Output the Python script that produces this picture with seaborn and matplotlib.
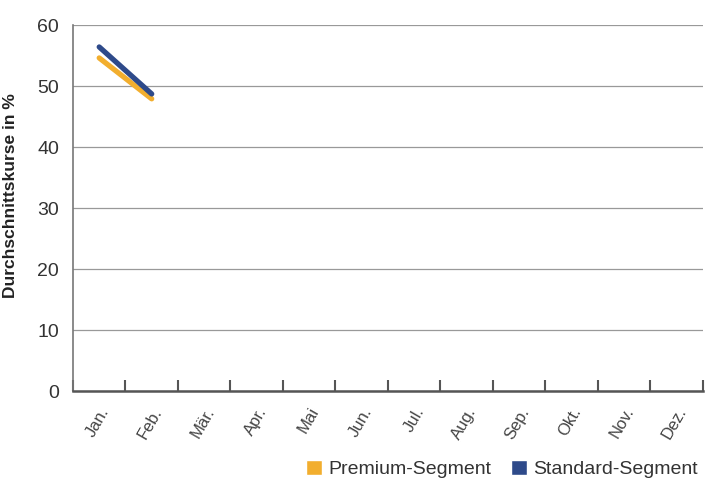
import matplotlib
matplotlib.use("Agg")
import matplotlib.pyplot as plt
from matplotlib.patches import Patch
import seaborn as sns
import pandas as pd
import numpy as np

months = ["Jan.", "Feb.", "Mär.", "Apr.", "Mai", "Jun.", "Jul.", "Aug.", "Sep.", "Okt.", "Nov.", "Dez."]
premium = [54.6, 47.9]
standard = [56.4, 48.7]
series_names = ["Premium-Segment", "Standard-Segment"]
colors = ["#F2AE2E", "#2E4A8A"]

sns.set_style("white")
plt.rcParams['font.family'] = ['Liberation Sans', 'DejaVu Sans']

df = pd.DataFrame({
    "pos": list(range(len(premium))) + list(range(len(standard))),
    "value": premium + standard,
    "Segment": [series_names[0]] * len(premium) + [series_names[1]] * len(standard),
})

fig = plt.figure(figsize=(7.12, 4.79), dpi=100)
ax = fig.add_axes([0.1025, 0.1837, 0.8845, 0.7641])

sns.lineplot(data=df, x="pos", y="value", hue="Segment", palette=colors,
             linewidth=3.8, ax=ax, legend=False, solid_capstyle="round")

ax.set_xlim(-0.5, 11.5)
ax.set_ylim(0, 60)
ax.set_yticks(range(0, 61, 10))
ax.yaxis.grid(True, color="#999999", linewidth=0.9)
ax.set_axisbelow(True)

# tick marks at category boundaries, labels at centres
ax.set_xticks(np.arange(-0.5, 11.6, 1.0))
ax.set_xticklabels([])
ax.tick_params(axis="x", which="major", bottom=True, direction="in", length=8, width=1.5, color="#555555")
ax.set_xticks(np.arange(len(months)), minor=True)
ax.set_xticklabels(months, minor=True, rotation=60, ha="right", rotation_mode="anchor",
                   fontsize=12, color="#444444")
ax.tick_params(axis="x", which="minor", bottom=True, length=0, pad=10)
ax.tick_params(axis="y", length=0, labelsize=14, labelcolor="#333333", pad=10)

for s in ["top", "right"]:
    ax.spines[s].set_visible(False)
ax.spines["left"].set_color("#777777")
ax.spines["left"].set_linewidth(1.2)
ax.spines["bottom"].set_color("#555555")
ax.spines["bottom"].set_linewidth(1.8)

ax.set_xlabel("")
ax.set_ylabel("Durchschnittskurse in %", fontsize=12.5, fontweight="bold", color="#222222")
ax.yaxis.set_label_coords(-0.087, 0.535)

handles = [Patch(facecolor=c, label=n) for c, n in zip(colors, series_names)]
fig.legend(handles=handles, loc="lower right", bbox_to_anchor=(1.005, -0.035), ncol=2,
           frameon=False, fontsize=14, handlelength=0.8, handleheight=0.8,
           handletextpad=0.35, columnspacing=1.0, labelcolor="#333333")

fig.savefig("out.png", dpi=100)
